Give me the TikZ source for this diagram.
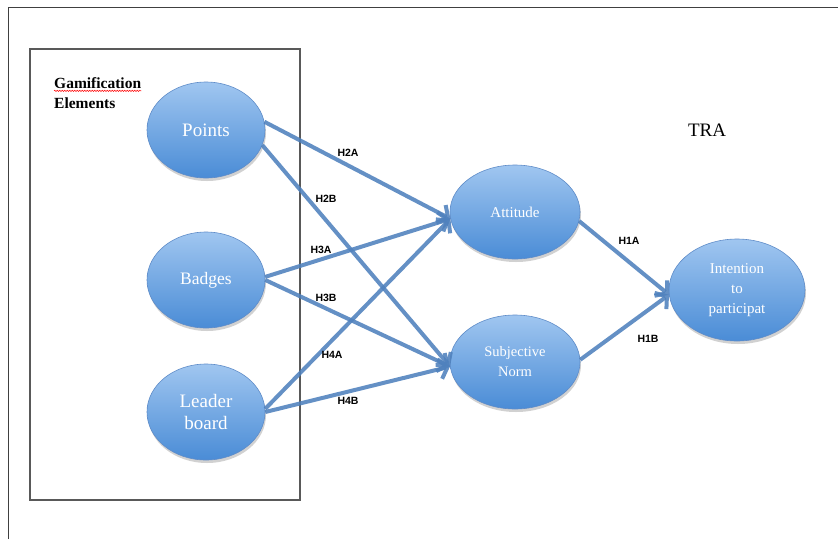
\documentclass[tikz,border=0pt]{standalone}
\usepackage{fontspec}
\setmainfont{Liberation Serif}
\setsansfont{Liberation Sans}
\usetikzlibrary{arrows.meta,shapes.geometric,shadows,decorations.pathmorphing}

\definecolor{linkblue}{RGB}{79,129,189}
\definecolor{balltop}{RGB}{160,198,240}
\definecolor{ballbot}{RGB}{74,140,214}
\definecolor{ballrim}{RGB}{95,140,200}

\tikzset{
  ball/.style={ellipse, draw=ballrim, line width=0.6pt, top color=balltop,
    bottom color=ballbot, text=white, align=center, inner sep=0pt,
    drop shadow={shadow xshift=1pt, shadow yshift=-3pt, opacity=0.3, fill=black!60}},
  link/.style={draw=linkblue, line width=4pt, opacity=0.88,
    -{Straight Barb[length=8pt,width=20pt]}},
  hyp/.style={font=\sffamily\bfseries\fontsize{10.5}{12}\selectfont},
  title/.style={font=\bfseries\fontsize{15.5}{18}\selectfont, anchor=west, inner sep=0pt}
}

\begin{document}
\begin{tikzpicture}[x=1pt, y=-1pt]
    \useasboundingbox (0,0) rectangle (838,539);

    % frame
    \draw[black!75, line width=1pt] (8,539) -- (8,7) -- (838,7);
    \draw[black!65, line width=1.3pt] (30,49) rectangle (300,500);

    % Gamification elements
    \node[title] (gam) at (54,83) {Gamification};
    \node[title] (elem) at (54,103) {Elements};
    \draw[red, line width=0.5pt, decorate, decoration={snake, amplitude=0.7pt, segment length=2.5pt}]
        ([yshift=-2.5pt]gam.base west) -- ([yshift=-2.5pt]gam.base east);

    \node[ball, minimum width=118, minimum height=96, font=\fontsize{19}{20}\selectfont] (points) at (206,130) {Points};
    \node[ball, minimum width=118, minimum height=96, font=\fontsize{17.5}{20}\selectfont] (badges) at (206,280) {Badges};
    \node[ball, minimum width=118, minimum height=96, font=\fontsize{19}{22}\selectfont] (leader) at (206,412) {Leader\\board};

    % TRA
    \node[font=\fontsize{19}{20}\selectfont] (tra) at (707,130) {TRA};
    \node[ball, minimum width=130, minimum height=94, font=\fontsize{15}{17}\selectfont] (attitude) at (515,212) {Attitude};
    \node[ball, minimum width=130, minimum height=94, font=\fontsize{14.5}{20}\selectfont] (subjective) at (515,362) {Subjective\\Norm};
    \node[ball, minimum width=136, minimum height=102, font=\fontsize{15}{20}\selectfont] (intention) at (737,290) {Intention\\to\\participat};

    % hypotheses
    \draw[link] (points.8) -- (attitude.186);
    \draw[link] (points.-15) -- (subjective.184);
    \draw[link] (badges.3) -- (attitude.186);
    \draw[link] (badges.0) -- (subjective.184);
    \draw[link] (leader.3) -- (attitude.186);
    \draw[link] (leader.0) -- (subjective.184);
    \draw[link] (attitude.-8) -- (intention.184);
    \draw[link] (subjective.2) -- (intention.184);

    \node[hyp] (h2a) at (348,153) {H2A};
    \node[hyp] (h2b) at (326,199) {H2B};
    \node[hyp] (h3a) at (321,250) {H3A};
    \node[hyp] (h3b) at (326,298) {H3B};
    \node[hyp] (h4a) at (332,355) {H4A};
    \node[hyp] (h4b) at (348,401) {H4B};
    \node[hyp] (h1a) at (629,241) {H1A};
    \node[hyp] (h1b) at (648,339) {H1B};
\end{tikzpicture}
\end{document}
